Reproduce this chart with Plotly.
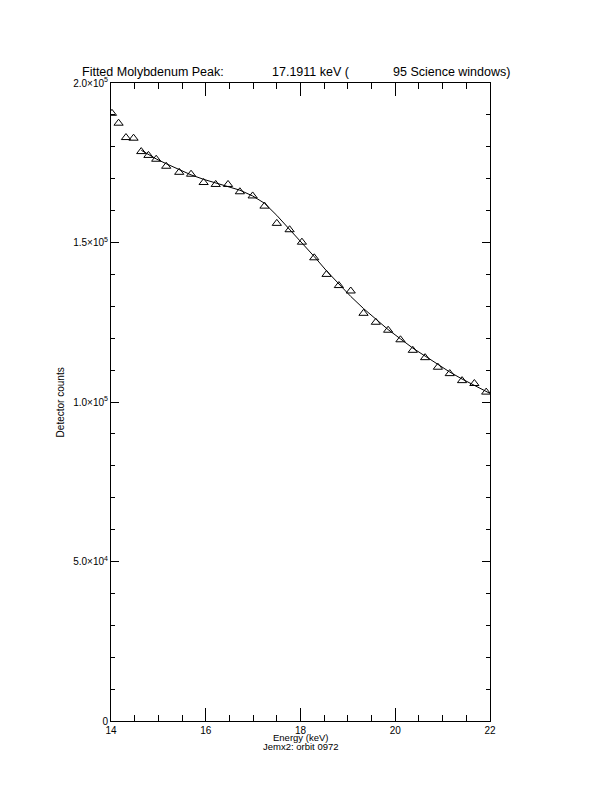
import plotly.graph_objects as go

# Measured data points (energy keV, detector counts)
energy = [14.02, 14.16, 14.316, 14.476, 14.638, 14.79, 14.954, 15.165, 15.44, 15.69,
          15.955, 16.21, 16.47, 16.72, 16.99, 17.24, 17.50, 17.77, 18.03, 18.29,
          18.55, 18.81, 19.06, 19.33, 19.59, 19.85, 20.11, 20.37, 20.63, 20.90,
          21.15, 21.41, 21.67, 21.92]
counts = [190500, 187400, 182900, 182700, 178500, 177300, 176100, 173900, 172000, 171400,
          168800, 168200, 168200, 165900, 164600, 161400, 156000, 154000, 150100, 145200,
          140000, 136500, 134800, 127800, 125000, 122500, 119500, 116200, 113900, 110900,
          108900, 106700, 105800, 103100]

# Fitted curve
fit_energy = [14.64, 14.79, 14.954, 15.165, 15.44, 15.69, 15.955, 16.21, 16.47, 16.72,
              16.99, 17.24, 17.50, 17.77, 18.03, 18.29, 18.55, 18.81, 19.06, 19.33,
              19.59, 19.85, 20.11, 20.37, 20.63, 20.90, 21.15, 21.41, 21.67, 21.92, 22.0]
fit_counts = [178900, 177600, 176200, 174700, 172800, 171200, 169800, 168700, 167600, 166400,
              164600, 162300, 158500, 154100, 150000, 145600, 141100, 137000, 133100, 129300,
              125900, 122700, 119800, 116900, 114400, 111800, 109400, 107200, 105200, 103300, 102700]

x_tickvals = [14, 16, 18, 20, 22]
x_ticktext = ["14", "16", "18", "20", "22"]
y_tickvals = [0, 50000, 100000, 150000, 200000]
y_ticktext = ["0", "5.0×10<sup>4</sup>", "1.0×10<sup>5</sup>", "1.5×10<sup>5</sup>", "2.0×10<sup>5</sup>"]

FONT = "Liberation Sans"

fig = go.Figure()
fig.add_trace(go.Scatter(x=fit_energy, y=fit_counts, mode="lines",
                         line=dict(color="black", width=1), showlegend=False))
fig.add_trace(go.Scatter(x=energy, y=counts, mode="markers",
                         marker=dict(symbol="triangle-up-open", size=8, color="black",
                                     line=dict(color="black", width=1)),
                         showlegend=False))

# page has an 8px body margin, so plot area offsets are compensated here
fig.update_layout(
    width=612, height=792,
    paper_bgcolor="white", plot_bgcolor="white",
    margin=dict(l=102.7, r=129.7, t=75.3, b=78.7),
    font=dict(family=FONT, size=10, color="black"),
    showlegend=False,
    xaxis=dict(range=[14, 22], showgrid=False, zeroline=False,
               showline=True, linecolor="black", linewidth=1, mirror="allticks",
               ticks="inside", ticklen=13, tickwidth=1, tickcolor="black",
               tickmode="array", tickvals=x_tickvals, ticktext=x_ticktext,
               tickfont=dict(family=FONT, size=10),
               minor=dict(ticks="inside", ticklen=6, tickwidth=1, tickcolor="black",
                          tickmode="linear", tick0=14, dtick=0.5, showgrid=False)),
    yaxis=dict(range=[0, 200000], showgrid=False, zeroline=False,
               showline=True, linecolor="black", linewidth=1, mirror="allticks",
               ticks="inside", ticklen=8, tickwidth=1, tickcolor="black",
               tickmode="array", tickvals=y_tickvals, ticktext=y_ticktext,
               tickfont=dict(family=FONT, size=10),
               minor=dict(ticks="inside", ticklen=4, tickwidth=1, tickcolor="black",
                          tickmode="linear", tick0=0, dtick=10000, showgrid=False)),
)

ann = []
def txt(x, y, s, size, xanchor="left", angle=0):
    ann.append(dict(x=x, y=y, xref="paper", yref="paper", text=s, showarrow=False,
                    xanchor=xanchor, yanchor="middle", textangle=angle,
                    font=dict(family=FONT, size=size, color="black")))

W = 379.6
H = 638.0
def px(xp):
    return (xp - 110.7) / W
def py(yp):
    return (721.3 - yp) / H

txt(px(80), py(72.5), "Fitted Molybdenum Peak:", 12.5)
txt(px(270), py(72.5), "17.1911 keV (", 12.5)
txt(px(512), py(72.5), "95 Science windows)", 12.5, xanchor="right")
txt(0.5, py(737.5), "Energy (keV)", 9.5, xanchor="center")
txt(0.5, py(746.5), "Jemx2: orbit 0972", 9.5, xanchor="center")
txt(px(60), 0.5, "Detector counts", 10, xanchor="center", angle=-90)
fig.update_layout(annotations=ann)

fig.write_html("out.html")
